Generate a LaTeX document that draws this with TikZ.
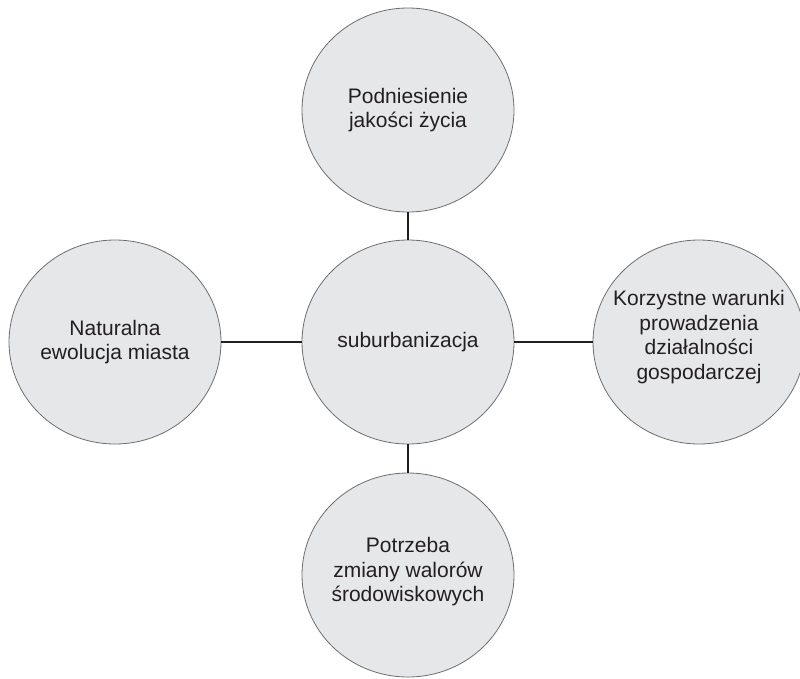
\documentclass[tikz,border=0pt]{standalone}
\usepackage{fontspec}
\setmainfont{Liberation Sans}
\usetikzlibrary{shapes.geometric}
\definecolor{bubblefill}{HTML}{E6E7E8}
\definecolor{bubbleline}{HTML}{6D6E71}
\definecolor{linkcol}{HTML}{231F20}
\begin{document}
\begin{tikzpicture}[x=1pt,y=-1pt,
  bubble/.style={ellipse, draw=bubbleline, line width=0.8pt, fill=bubblefill,
    minimum width=212pt, minimum height=204pt, inner sep=0pt},
  bubbletext/.style={align=center, text=linkcol, inner sep=0pt,
    font=\fontsize{21}{24.5}\selectfont},
  link/.style={draw=linkcol, line width=1.6pt}]
\useasboundingbox (0,0) rectangle (800,678);
\node[bubble] (top) at (408,110) {};
\node[bubble] (mid) at (408,342) {};
\node[bubble] (left) at (115,342) {};
\node[bubble] (right) at (699,342) {};
\node[bubble] (bot) at (408,575) {};
\node[bubbletext] (ttop) at (top.center) {Podniesienie\\jakości życia};
\node[bubbletext] (tmid) at (mid.center) {suburbanizacja};
\node[bubbletext] (tleft) at (left.center) {Naturalna\\ewolucja miasta};
\node[bubbletext] (tright) at ([yshift=5pt]right.center) {Korzystne warunki\\prowadzenia\\działalności\\gospodarczej};
\node[bubbletext] (tbot) at ([yshift=3pt]bot.center) {Potrzeba\\zmiany walorów\\środowiskowych};
\draw[link] (top) -- (mid);
\draw[link] (mid) -- (bot);
\draw[link] (left) -- (mid);
\draw[link] (mid) -- (right);
\end{tikzpicture}
\end{document}
